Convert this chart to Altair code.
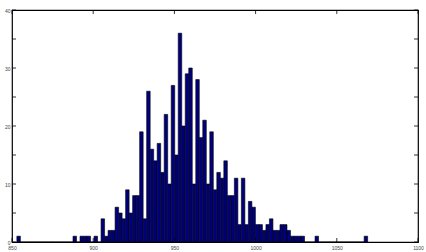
import altair as alt
import pandas as pd

# Histogram (100 bins) of a sample spanning roughly 853 .. 1069
data_min = 853.0
data_max = 1069.0
counts = [
    1, 0, 0, 0, 0, 0, 0, 0, 0, 0,
    0, 0, 0, 0, 0, 0, 1, 0, 1, 1,
    1, 0, 1, 0, 4, 1, 2, 2, 6, 5,
    4, 9, 5, 8, 8, 19, 4, 26, 16, 14,
    17, 12, 22, 10, 27, 15, 36, 20, 29, 30,
    10, 28, 18, 21, 10, 19, 9, 12, 11, 14,
    8, 8, 11, 3, 11, 3, 7, 6, 3, 3,
    2, 3, 4, 2, 2, 3, 3, 2, 1, 1,
    1, 1, 0, 0, 0, 1, 0, 0, 0, 0,
    0, 0, 0, 0, 0, 0, 0, 0, 0, 1,
]
x_ticks = [850, 900, 950, 1000, 1050, 1100]
y_ticks = [0, 5, 10, 15, 20, 25, 30, 35, 40]

n = len(counts)
w = (data_max - data_min) / n
df = pd.DataFrame({
    "start": [data_min + i * w for i in range(n)],
    "end": [data_min + (i + 1) * w for i in range(n)],
    "count": counts,
})
xt = pd.DataFrame({"v": x_ticks})
yt = pd.DataFrame({"v": y_ticks})

W, H = 406, 232
xscale = alt.Scale(domain=[850, 1100], nice=False, zero=False)
yscale = alt.Scale(domain=[0, 40], nice=False)
lab = dict(labelFontSize=5, labelColor="#444", labelFont="Liberation Sans",
           ticks=False, domain=False, grid=False, title=None, format="d",
           labelOverlap=False)

bars = alt.Chart(df).mark_rect(fill="#00007a", stroke="#000000", strokeWidth=0.6).encode(
    x=alt.X("start:Q", scale=xscale,
            axis=alt.Axis(values=x_ticks, labelPadding=3, labelFlush=False, **lab)),
    x2="end:Q",
    y=alt.Y("count:Q", scale=yscale,
            axis=alt.Axis(values=y_ticks, labelPadding=2, labelFlush=False, **lab)),
    y2=alt.datum(0),
)

tick_style = dict(color="black", strokeWidth=0.8)
xb = alt.Chart(xt).mark_rule(**tick_style).encode(
    x=alt.X("v:Q", scale=xscale), y=alt.value(H), y2=alt.value(H - 4))
xtop = alt.Chart(xt).mark_rule(**tick_style).encode(
    x=alt.X("v:Q", scale=xscale), y=alt.value(0), y2=alt.value(4))
yl = alt.Chart(yt).mark_rule(**tick_style).encode(
    y=alt.Y("v:Q", scale=yscale), x=alt.value(0), x2=alt.value(4))
yr = alt.Chart(yt).mark_rule(**tick_style).encode(
    y=alt.Y("v:Q", scale=yscale), x=alt.value(W), x2=alt.value(W - 4))

chart = alt.layer(bars, xb, xtop, yl, yr).properties(
    width=W, height=H,
    autosize="none",
    padding={"left": 12, "top": 10, "right": 8, "bottom": 10},
    background="white",
).configure_view(stroke="black", strokeWidth=1.2)

chart.save("out.html", embed_options={"renderer": "svg", "actions": False})
